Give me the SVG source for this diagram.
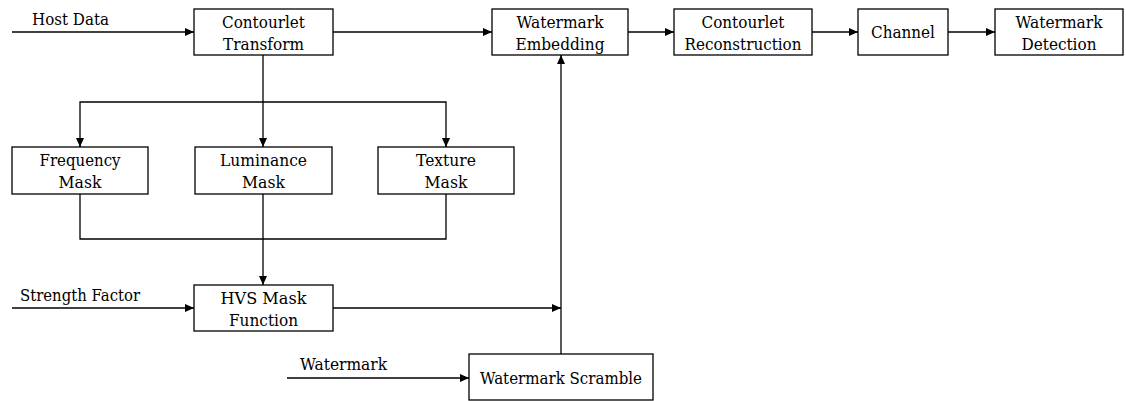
<svg xmlns="http://www.w3.org/2000/svg" width="1126" height="401" viewBox="0 0 1126 401">
<style>
.box{fill:#fff;stroke:#000;stroke-width:1.3}
text{font-family:"DejaVu Serif","Liberation Serif",serif;font-size:17px;fill:#000}
.t{text-anchor:middle}
.c{fill:none;stroke:#000;stroke-width:1.3}
</style>
<defs>
<marker id="ah" markerWidth="10" markerHeight="8" refX="9" refY="4" orient="auto" markerUnits="userSpaceOnUse">
<path d="M0,0 L9,4 L0,8 Z" fill="#000"/>
</marker>
</defs>
<rect width="1126" height="401" fill="#fff"/>
<g id="connectors">
<line class="c" x1="12" y1="32" x2="194" y2="32" marker-end="url(#ah)"/>
<line class="c" x1="333" y1="32" x2="492" y2="32" marker-end="url(#ah)"/>
<line class="c" x1="628" y1="32" x2="674" y2="32" marker-end="url(#ah)"/>
<line class="c" x1="812" y1="32" x2="858" y2="32" marker-end="url(#ah)"/>
<line class="c" x1="948" y1="32" x2="995" y2="32" marker-end="url(#ah)"/>
<line class="c" x1="263" y1="55" x2="263" y2="147" marker-end="url(#ah)"/>
<polyline class="c" points="80,147 80,102 446,102 446,147"/>
<line class="c" x1="80" y1="138" x2="80" y2="147" marker-end="url(#ah)"/>
<line class="c" x1="446" y1="138" x2="446" y2="147" marker-end="url(#ah)"/>
<polyline class="c" points="80,194 80,239 446,239 446,194"/>
<line class="c" x1="263" y1="194" x2="263" y2="285" marker-end="url(#ah)"/>
<line class="c" x1="12" y1="308" x2="194" y2="308" marker-end="url(#ah)"/>
<line class="c" x1="333" y1="308" x2="561" y2="308" marker-end="url(#ah)"/>
<line class="c" x1="287" y1="378" x2="469" y2="378" marker-end="url(#ah)"/>
<line class="c" x1="561" y1="354" x2="561" y2="55" marker-end="url(#ah)"/>
</g>
<g id="labels">
<text x="32" y="25" textLength="77" lengthAdjust="spacingAndGlyphs">Host Data</text>
<text x="20" y="301" textLength="120" lengthAdjust="spacingAndGlyphs">Strength Factor</text>
<text x="300" y="370" textLength="87" lengthAdjust="spacingAndGlyphs">Watermark</text>
</g>
<g id="contourlet-transform">
<rect class="box" x="194" y="9" width="139" height="46"/>
<text class="t" x="263.5" y="28" textLength="83" lengthAdjust="spacingAndGlyphs">Contourlet</text>
<text class="t" x="263.5" y="50" textLength="81" lengthAdjust="spacingAndGlyphs">Transform</text>
</g>
<g id="watermark-embedding">
<rect class="box" x="492" y="9" width="136" height="46"/>
<text class="t" x="560" y="28" textLength="87" lengthAdjust="spacingAndGlyphs">Watermark</text>
<text class="t" x="560" y="50" textLength="89" lengthAdjust="spacingAndGlyphs">Embedding</text>
</g>
<g id="contourlet-reconstruction">
<rect class="box" x="674" y="9" width="138" height="46"/>
<text class="t" x="743" y="28" textLength="83" lengthAdjust="spacingAndGlyphs">Contourlet</text>
<text class="t" x="743" y="50" textLength="117" lengthAdjust="spacingAndGlyphs">Reconstruction</text>
</g>
<g id="channel">
<rect class="box" x="858" y="9" width="90" height="46"/>
<text class="t" x="903" y="38" textLength="64" lengthAdjust="spacingAndGlyphs">Channel</text>
</g>
<g id="watermark-detection">
<rect class="box" x="995" y="9" width="128" height="46"/>
<text class="t" x="1059" y="28" textLength="87" lengthAdjust="spacingAndGlyphs">Watermark</text>
<text class="t" x="1059" y="50" textLength="75" lengthAdjust="spacingAndGlyphs">Detection</text>
</g>
<g id="frequency-mask">
<rect class="box" x="12" y="147" width="136" height="47"/>
<text class="t" x="80" y="166" textLength="81" lengthAdjust="spacingAndGlyphs">Frequency</text>
<text class="t" x="80" y="188" textLength="43" lengthAdjust="spacingAndGlyphs">Mask</text>
</g>
<g id="luminance-mask">
<rect class="box" x="195" y="147" width="137" height="47"/>
<text class="t" x="263.5" y="166" textLength="87" lengthAdjust="spacingAndGlyphs">Luminance</text>
<text class="t" x="263.5" y="188" textLength="43" lengthAdjust="spacingAndGlyphs">Mask</text>
</g>
<g id="texture-mask">
<rect class="box" x="378" y="147" width="136" height="47"/>
<text class="t" x="446" y="166" textLength="60" lengthAdjust="spacingAndGlyphs">Texture</text>
<text class="t" x="446" y="188" textLength="43" lengthAdjust="spacingAndGlyphs">Mask</text>
</g>
<g id="hvs-mask-function">
<rect class="box" x="194" y="285" width="139" height="46"/>
<text class="t" x="263.5" y="304" textLength="86" lengthAdjust="spacingAndGlyphs">HVS Mask</text>
<text class="t" x="263.5" y="326" textLength="69" lengthAdjust="spacingAndGlyphs">Function</text>
</g>
<g id="watermark-scramble">
<rect class="box" x="469" y="354" width="184" height="46"/>
<text class="t" x="561" y="384" textLength="162" lengthAdjust="spacingAndGlyphs">Watermark Scramble</text>
</g>
</svg>
